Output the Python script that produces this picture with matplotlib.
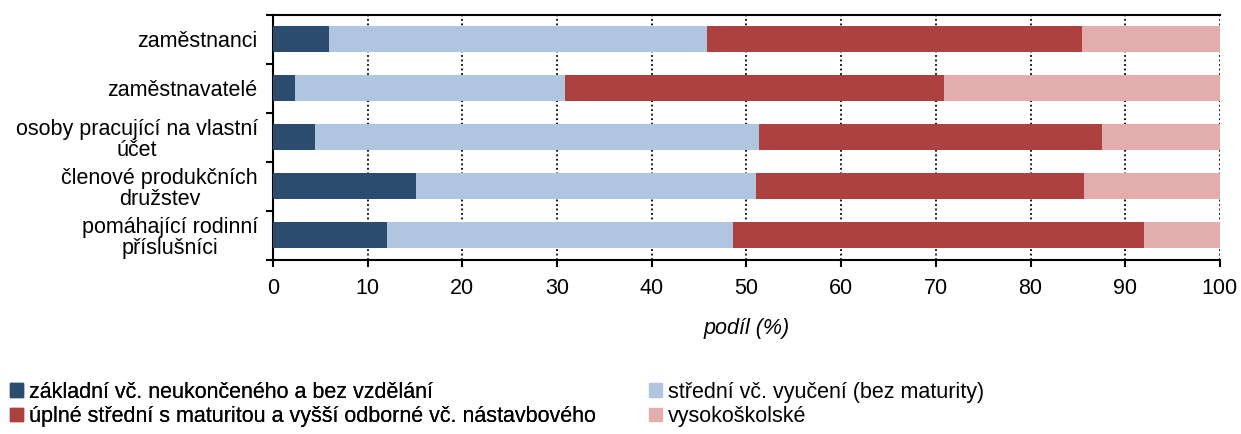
import matplotlib.pyplot as plt
from matplotlib.patches import Patch
import numpy

plt.rcParams['font.family'] = ['Liberation Sans', 'DejaVu Sans']

categories = ["zaměstnanci", "zaměstnavatelé", "osoby pracující na vlastní\núčet",
              "členové produkčních\ndružstev", "pomáhající rodinní\npříslušníci"]
zakladni = [5.9, 2.3, 4.4, 15.1, 12.0]
stredni = [39.9, 28.5, 46.9, 35.9, 36.6]
uplne = [39.6, 40.1, 36.2, 34.7, 43.4]
vysoko = [14.6, 29.1, 12.5, 14.3, 8.0]

series_names = ["základní vč. neukončeného a bez vzdělání",
                "střední vč. vyučení (bez maturity)",
                "úplné střední s maturitou a vyšší odborné vč. nástavbového",
                "vysokoškolské"]
colors = ["#2b4b6f", "#b0c6e0", "#ad413f", "#e3adad"]

FS = 15.5

fig = plt.figure(figsize=(12.41, 4.34), dpi=100)
ax = fig.add_axes([0.22, 0.401, 0.763, 0.5645])

y = numpy.arange(len(categories))
left = numpy.zeros(len(categories))
for vals, col in zip([zakladni, stredni, uplne, vysoko], colors):
  ax.barh(y, vals, left=left, height=0.53, color=col, zorder=3)
  left += numpy.array(vals)

ax.set_xlim(0, 100)
ax.set_ylim(len(categories) - 0.5, -0.5)
ax.set_xticks(range(0, 101, 10))
ax.set_yticks(y)
ax.set_yticklabels(categories, multialignment='center', fontsize=FS, linespacing=1.0)
ax.set_yticks(numpy.arange(-0.5, len(categories), 1.0), minor=True)
ax.tick_params(axis='y', which='major', length=0, pad=11)
ax.tick_params(axis='y', which='minor', length=5, width=1.5, direction='out')
ax.tick_params(axis='x', length=5, width=1.5, direction='out', labelsize=FS, pad=8)
ax.grid(axis='x', linestyle=(0, (1, 1.5)), color='black', linewidth=1.3, zorder=0)
ax.set_axisbelow(True)
for s in ['left', 'bottom', 'top']:
  ax.spines[s].set_linewidth(1.5)
ax.spines['right'].set_visible(False)
ax.set_xlabel("podíl (%)", fontstyle='italic', fontsize=FS, labelpad=14)

handles = [Patch(color=c) for c in colors]
leg_kw = dict(loc='upper left', frameon=False, fontsize=FS, handlelength=0.6,
              handleheight=0.6, handletextpad=0.3, labelspacing=0.15,
              borderpad=0, borderaxespad=0)
leg1 = fig.legend([handles[0], handles[2]], [series_names[0], series_names[2]],
                  bbox_to_anchor=(0.008, 0.12), **leg_kw)
leg2 = fig.legend([handles[1], handles[3]], [series_names[1], series_names[3]],
                  bbox_to_anchor=(0.523, 0.12), **leg_kw)
fig.add_artist(leg1)

plt.savefig("out.png", dpi=100)
